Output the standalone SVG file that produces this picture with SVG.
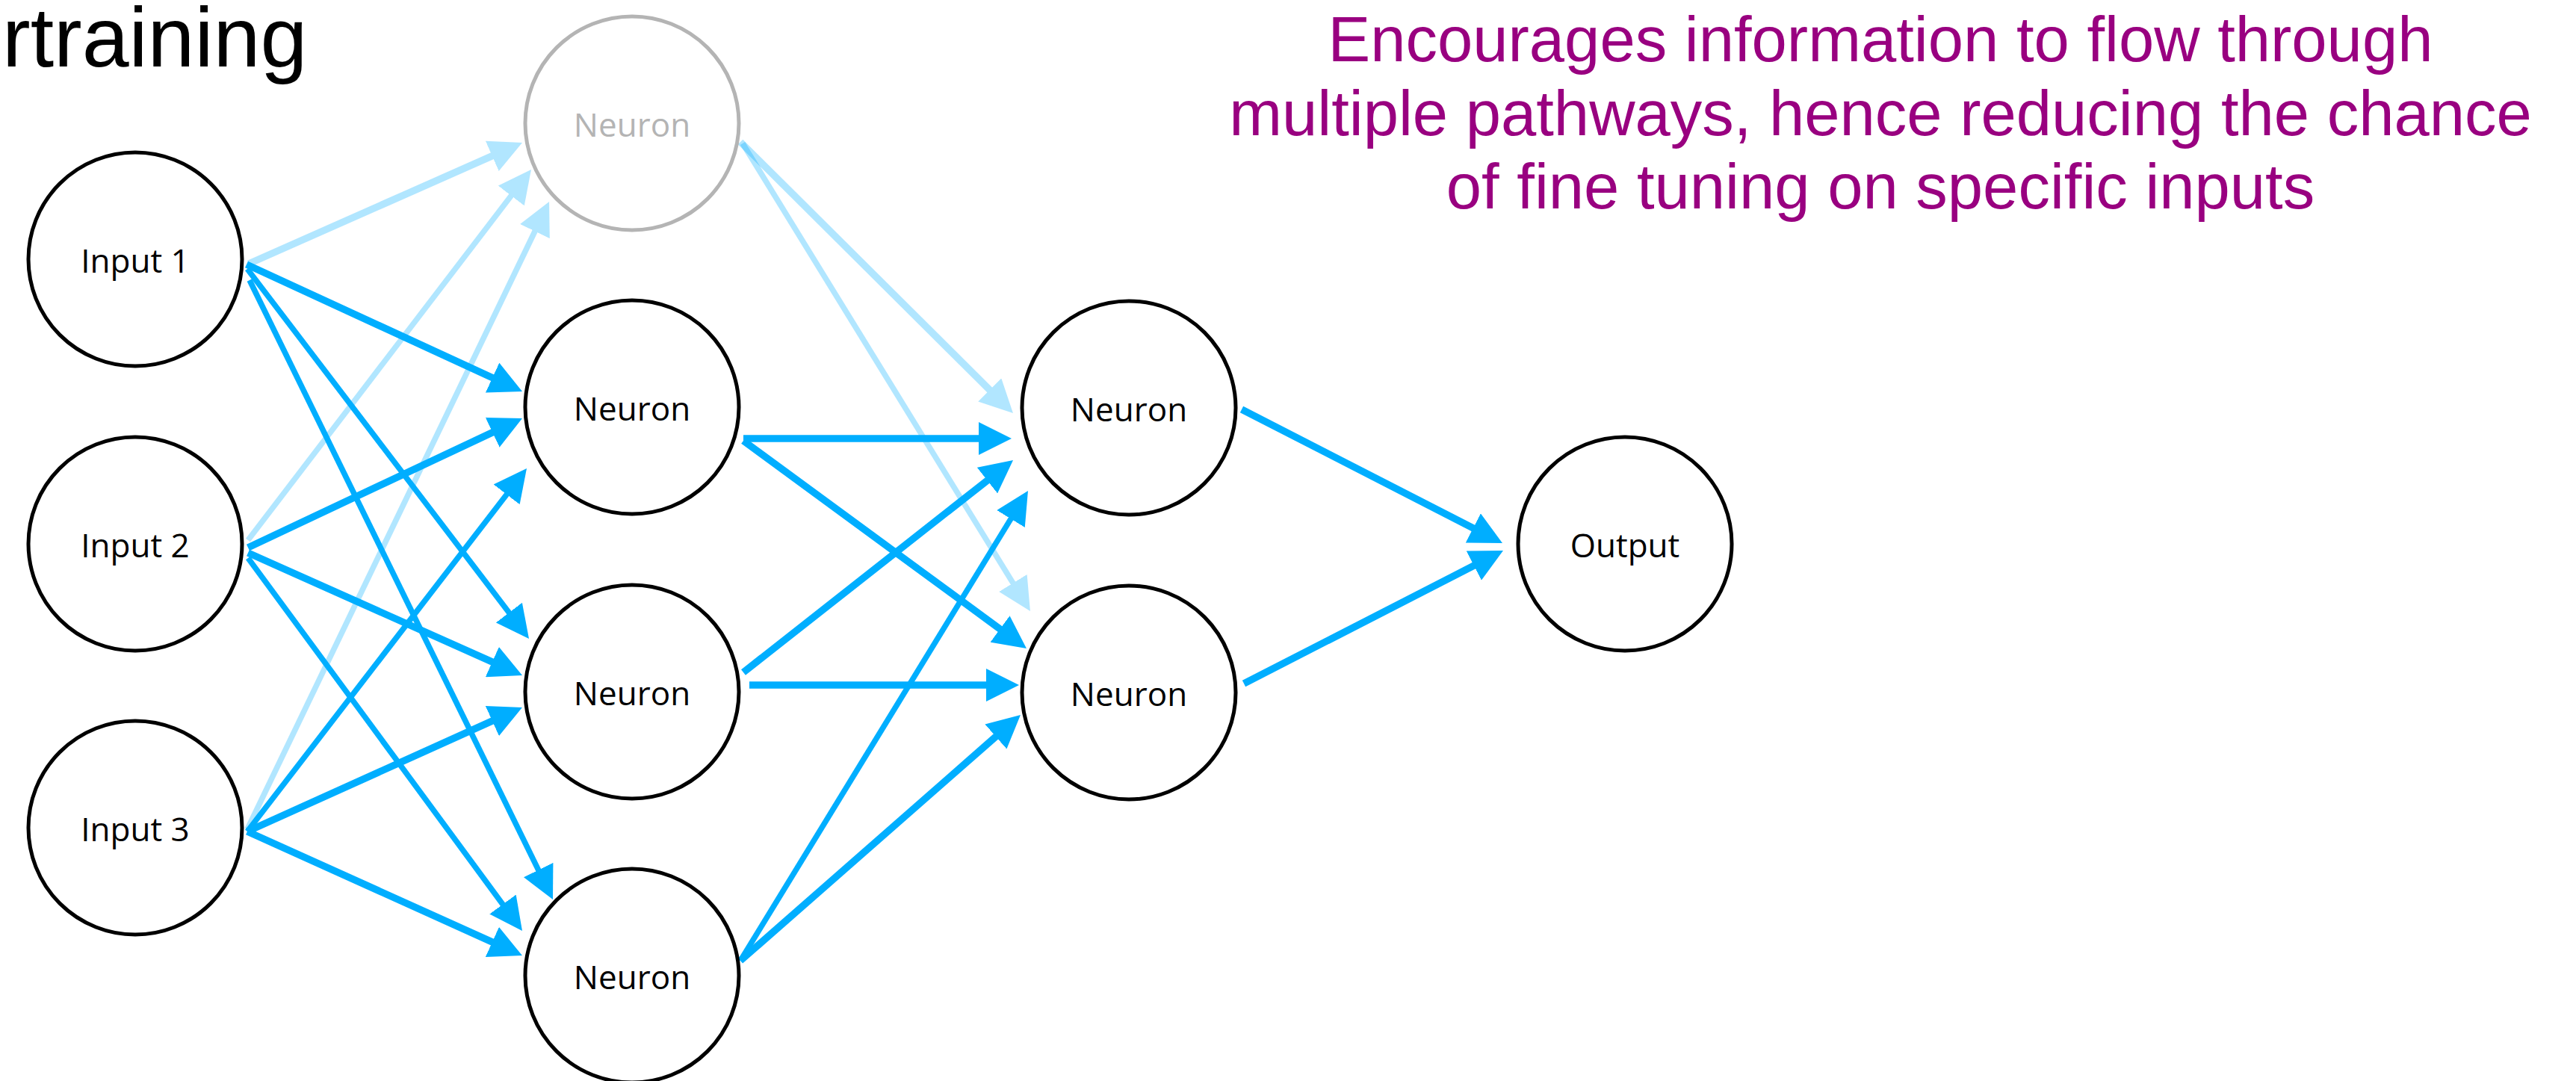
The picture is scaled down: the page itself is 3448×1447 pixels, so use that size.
<svg xmlns="http://www.w3.org/2000/svg" width="3448" height="1447" viewBox="0 0 3448 1447">
<defs>
<style>
.node{fill:#ffffff;stroke:#000000;stroke-width:5}
.ghost{fill:#ffffff;stroke:#b4b4b4;stroke-width:5}
.lbl{font-family:"Open Sans","Noto Sans","DejaVu Sans",sans-serif;font-size:44px;text-anchor:middle;fill:#000000}
.glbl{fill:#b4b4b4}
.e{stroke:#00aeff;stroke-width:9.5;fill:none;marker-end:url(#ah)}
.t{stroke-width:7.5}
.light{opacity:0.3}
.title{font-family:"Liberation Sans",Arial,sans-serif;font-size:113px;fill:#000000}
.note{font-family:"Liberation Sans",Arial,sans-serif;font-size:85px;fill:#990080;text-anchor:middle}
</style>
<marker id="ah" markerUnits="userSpaceOnUse" markerWidth="44" markerHeight="44" refX="4" refY="22" orient="auto" viewBox="0 0 44 44">
<path d="M0,0 L44,22 L0,44 z" fill="#00aeff"/>
</marker>
</defs>
<rect width="3448" height="1447" fill="#ffffff"/>
<text class="title" x="3" y="89">rtraining</text>
<g id="note">
<text class="note" x="2517" y="82">Encourages information to flow through</text>
<text class="note" x="2517" y="181">multiple pathways, hence reducing the chance</text>
<text class="note" x="2517" y="279">of fine tuning on specific inputs</text>
</g>
<g id="connectors">
<g class="light"><line class="e" x1="333" y1="353" x2="662.4" y2="207.2"/></g>
<g class="light"><line class="e t" x1="332" y1="723" x2="686.7" y2="258.8"/></g>
<g class="light"><line class="e t" x1="331" y1="1110" x2="717.7" y2="306"/></g>
<line class="e" x1="330" y1="354" x2="662.7" y2="507.3"/>
<line class="e t" x1="331" y1="360" x2="683.8" y2="823.2"/>
<line class="e t" x1="334" y1="375" x2="722.4" y2="1168.1"/>
<line class="e" x1="332" y1="733" x2="662.8" y2="577.1"/>
<line class="e" x1="332" y1="740" x2="662.5" y2="887.7"/>
<line class="e t" x1="332" y1="747" x2="675.3" y2="1213.8"/>
<line class="e t" x1="331" y1="1113" x2="680.6" y2="658.7"/>
<line class="e" x1="331" y1="1113" x2="662.5" y2="963.4"/>
<line class="e" x1="331" y1="1113" x2="662.5" y2="1262.6"/>
<g class="light"><line class="e" x1="991" y1="190" x2="1327.6" y2="524.8"/></g>
<g class="light"><line class="e t" x1="994" y1="192" x2="1358" y2="783.9"/></g>
<line class="e" x1="995" y1="587" x2="1314" y2="587"/>
<line class="e" x1="995" y1="590" x2="1341.7" y2="844.3"/>
<line class="e" x1="995" y1="900" x2="1324.6" y2="640.7"/>
<line class="e" x1="1003" y1="917" x2="1324" y2="917"/>
<line class="e t" x1="991" y1="1286" x2="1355.1" y2="691.1"/>
<line class="e" x1="991" y1="1286" x2="1335.9" y2="983.4"/>
<line class="e" x1="1662" y1="548" x2="1975.4" y2="708.7"/>
<line class="e" x1="1665" y1="915" x2="1976.4" y2="755.3"/>
</g>
<g id="input1"><circle class="node" cx="181" cy="347" r="143"/><text class="lbl" x="181" y="365">Input 1</text></g>
<g id="input2"><circle class="node" cx="181" cy="728" r="143"/><text class="lbl" x="181" y="746">Input 2</text></g>
<g id="input3"><circle class="node" cx="181" cy="1108" r="143"/><text class="lbl" x="181" y="1126">Input 3</text></g>
<g id="hidden1"><circle class="ghost" cx="846" cy="165" r="143"/><text class="lbl glbl" x="846" y="183">Neuron</text></g>
<g id="hidden2"><circle class="node" cx="846" cy="545" r="143"/><text class="lbl" x="846" y="563">Neuron</text></g>
<g id="hidden3"><circle class="node" cx="846" cy="926" r="143"/><text class="lbl" x="846" y="944">Neuron</text></g>
<g id="hidden4"><circle class="node" cx="846" cy="1306" r="143"/><text class="lbl" x="846" y="1324">Neuron</text></g>
<g id="layer3a"><circle class="node" cx="1511" cy="546" r="143"/><text class="lbl" x="1511" y="564">Neuron</text></g>
<g id="layer3b"><circle class="node" cx="1511" cy="927" r="143"/><text class="lbl" x="1511" y="945">Neuron</text></g>
<g id="output"><circle class="node" cx="2175" cy="728" r="143"/><text class="lbl" x="2175" y="746">Output</text></g>
</svg>
